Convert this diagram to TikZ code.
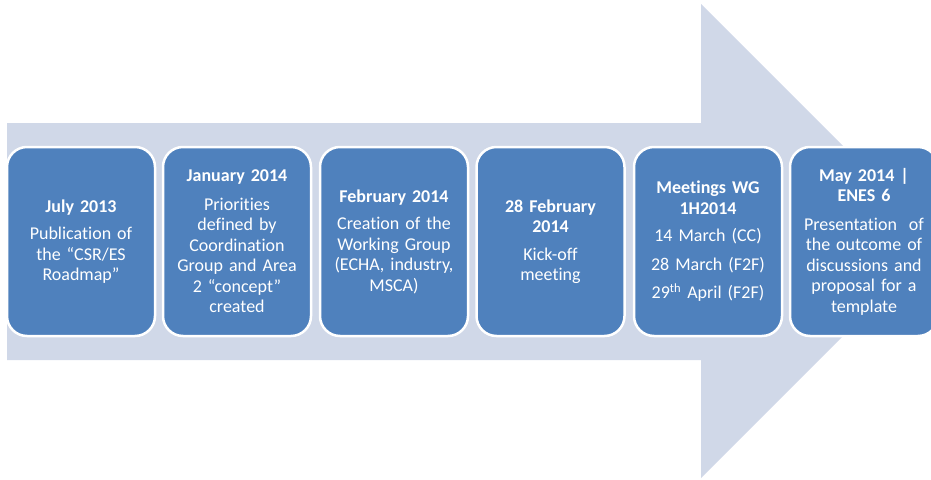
\documentclass[tikz,border=0pt]{standalone}
\usepackage{fontspec}
\setmainfont{Carlito}[Ligatures={NoCommon}]
\definecolor{arrowfill}{HTML}{D0D8E8}
\definecolor{boxblue}{HTML}{4F81BD}
\begin{document}
\begin{tikzpicture}[x=1pt,y=-1pt,
  stagebox/.style={draw=white, line width=2.5pt, fill=boxblue, rounded corners=20pt,
    minimum width=148pt, minimum height=189pt, text width=142pt, align=center,
    text=white, inner sep=0pt, font=\fontsize{18}{20.5}\selectfont}]
\useasboundingbox (0,0) rectangle (931,479);
\clip (0,0) rectangle (931,479);
\fill[arrowfill] (7,123) -- (701,123) -- (701,4) -- (938,241) -- (701,478) -- (701,360) -- (7,360) -- cycle;
\node[stagebox] (b1) at (81,241.5) {\textbf{July 2013}\\[7pt]Publication of\\the “CSR/ES\\Roadmap”};
\node[stagebox] (b2) at (237,241.5) {\textbf{January 2014}\\[8pt]Priorities\\defined by\\Coordination\\Group and Area\\2 “concept”\\created};
\node[stagebox] (b3) at (394,241.5) {\textbf{February 2014}\\[7pt]Creation of the\\Working Group\\(ECHA, industry,\\MSCA)};
\node[stagebox] (b4) at (550.5,241.5) {\textbf{28 February}\\\textbf{2014}\\[7pt]Kick-off\\meeting};
\node[stagebox] (b5) at (708,241.5) {\textbf{Meetings WG}\\\textbf{1H2014}\\[7pt]14 March (CC)\\[8pt]28 March (F2F)\\[8pt]29\textsuperscript{th} April (F2F)};
\node[stagebox] (b6) at (864,241.5) {\textbf{May 2014 |}\\\textbf{ENES 6}\\[8pt]Presentation \ of\\the outcome of\\discussions and\\proposal for a\\template};
\end{tikzpicture}
\end{document}
